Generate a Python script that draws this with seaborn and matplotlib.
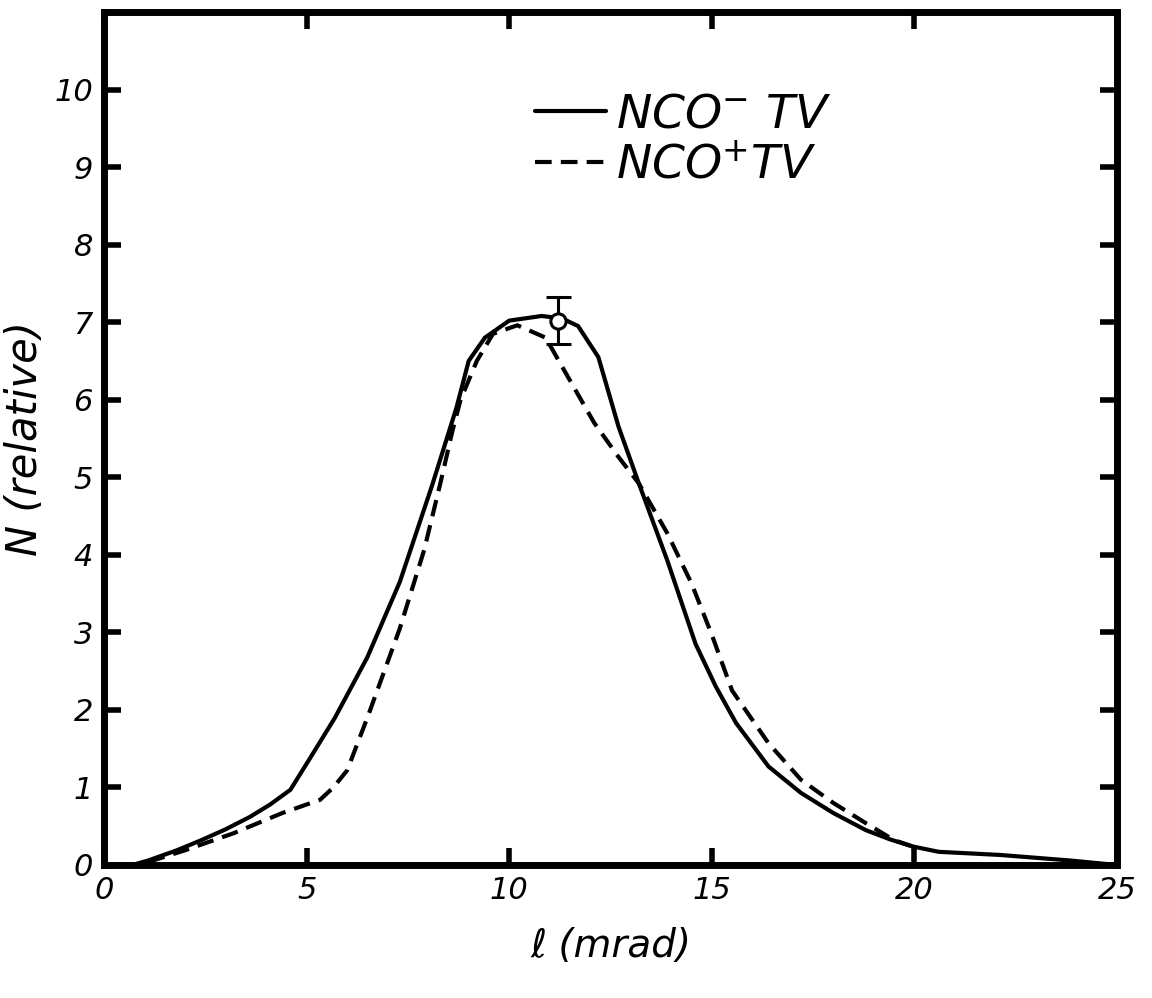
import matplotlib
matplotlib.use("Agg")
import matplotlib.pyplot as plt
import seaborn as sns
import pandas as pd

# Angular distributions of the two particle types (relative counts)
angle_minus = [0.7, 1.1, 1.8, 2.4, 3.0, 3.6, 4.1, 4.6, 5.1, 5.7, 6.5, 7.3, 8.1,
               8.7, 9.0, 9.4, 10.0, 10.8, 11.3, 11.7, 12.2, 12.7, 13.2, 13.9,
               14.6, 15.1, 15.6, 16.4, 17.2, 18.0, 18.8, 19.4, 19.95, 20.6,
               22.1, 23.8, 25.0]
counts_minus = [0.0, 0.06, 0.19, 0.32, 0.46, 0.62, 0.78, 0.97, 1.39, 1.9, 2.68,
                3.65, 4.9, 5.9, 6.5, 6.8, 7.02, 7.08, 7.05, 6.95, 6.55, 5.65,
                4.92, 3.93, 2.85, 2.3, 1.83, 1.27, 0.93, 0.67, 0.45, 0.33, 0.24,
                0.17, 0.13, 0.06, 0.0]

angle_plus = [1.1, 2.0, 3.2, 4.4, 5.0, 5.33, 5.66, 6.0, 6.5, 7.3, 7.9, 8.3, 8.6,
              8.8, 9.2, 9.6, 10.2, 10.9, 11.4, 12.1, 12.7, 13.2, 13.9, 14.5,
              15.0, 15.5, 16.4, 17.2, 18.0, 18.8, 19.5, 19.95]
counts_plus = [0.04, 0.19, 0.41, 0.67, 0.78, 0.84, 1.0, 1.22, 1.9, 3.05, 4.06,
               4.92, 5.6, 6.0, 6.5, 6.85, 6.96, 6.8, 6.34, 5.7, 5.26, 4.92,
               4.28, 3.63, 2.97, 2.25, 1.57, 1.1, 0.8, 0.54, 0.32, 0.24]

# Single measured point with its uncertainty
peak_angle = [11.2]
peak_value = [7.02]
peak_err = [0.3]

x_ticks = [0, 5, 10, 15, 20, 25]
y_ticks = [0, 1, 2, 3, 4, 5, 6, 7, 8, 9, 10]

label_minus = r"NCO$^{-}$ TV"
label_plus = r"NCO$^{+}$TV"

df = pd.concat([
    pd.DataFrame({"angle": angle_minus, "N": counts_minus, "series": label_minus}),
    pd.DataFrame({"angle": angle_plus, "N": counts_plus, "series": label_plus}),
])

sns.set_theme(style="white")
plt.rcParams["font.family"] = ["DejaVu Sans"]
plt.rcParams["mathtext.default"] = "it"
plt.rcParams["text.color"] = "black"
plt.rcParams["axes.labelcolor"] = "black"
plt.rcParams["xtick.color"] = "black"
plt.rcParams["ytick.color"] = "black"

fig = plt.figure(figsize=(11.52, 9.98), dpi=100)
ax = fig.add_axes([104 / 1152, 1 - 865 / 998, (1117 - 104) / 1152, (865 - 12) / 998])

sns.lineplot(data=df, x="angle", y="N", hue="series", style="series",
             palette=["black", "black"], dashes=[(None, None), (4, 2.2)],
             linewidth=3.0, sort=False, legend=True, ax=ax)

ax.errorbar(peak_angle, peak_value, yerr=peak_err, fmt="o", mfc="white",
            mec="black", ecolor="black", ms=11, mew=2.2, elinewidth=2.2,
            capsize=9, capthick=2.2, zorder=5)

ax.set_xlim(0, 25)
ax.set_ylim(0, 11)
ax.set_xticks(x_ticks)
ax.set_yticks(y_ticks)
ax.set_xticklabels([str(t) for t in x_ticks], fontsize=22, style="italic")
ax.set_yticklabels([str(t) for t in y_ticks], fontsize=22, style="italic")

for side in ["left", "right", "top", "bottom"]:
    ax.spines[side].set_visible(True)
    ax.spines[side].set_color("black")
    ax.spines[side].set_linewidth(5)

ax.tick_params(direction="in", length=12, width=4, color="black",
               top=True, right=True, labeltop=False, labelright=False,
               bottom=True, left=True, pad=8)

ax.set_xlabel("ℓ (mrad)", fontsize=28, style="italic", labelpad=16)
ax.set_ylabel("N (relative)", fontsize=30, style="italic", labelpad=6)

leg = ax.legend(loc="upper right", bbox_to_anchor=(0.76, 0.955), frameon=False,
                prop={"size": 34, "style": "italic"}, handlelength=1.5,
                handletextpad=0.2, labelspacing=0.12)
leg.set_title(None)

fig.savefig("out.png", dpi=100, facecolor="white")
